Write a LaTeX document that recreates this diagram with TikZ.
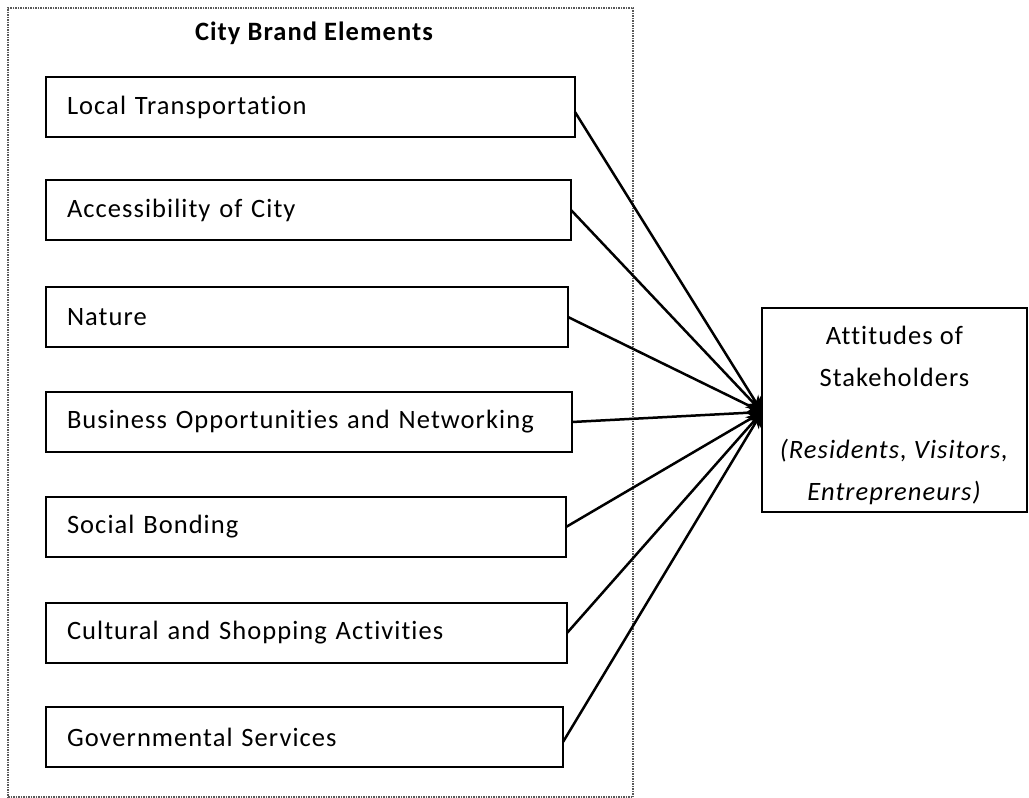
\documentclass[tikz,border=0pt]{standalone}
\usepackage{fontspec}
\setmainfont{Carlito}[Ligatures=NoCommon, LetterSpace=4]
\usetikzlibrary{arrows.meta}
\begin{document}
\begin{tikzpicture}[x=1pt,y=-1pt,
  txt/.style={font=\fontsize{26.5}{30}\selectfont},
  elem/.style={draw, line width=1.8pt, rectangle, anchor=north west, minimum height=60pt,
    inner xsep=21pt, inner ysep=0pt, outer sep=0pt, align=left, txt},
  frame/.style={draw=black!65, line width=1.2pt, dash pattern=on 1.5pt off 1pt, anchor=north west, outer sep=0pt, inner sep=0pt},
  link/.style={line width=2.5pt, -{Stealth[length=15pt,width=18pt]}},
  target/.style={draw, line width=1.8pt, anchor=north west, minimum width=265pt, minimum height=204pt, outer sep=0pt},
]
\useasboundingbox (0,0) rectangle (1029,798);
\node[frame, minimum width=625pt, minimum height=789pt] (frm) at (8,8) {};
\node[txt, font=\bfseries\fontsize{26.5}{30}\selectfont] (title) at (314,33) {City Brand Elements};
\node[elem, text width=487pt] (b1) at (46,77)  {Local Transportation};
\node[elem, text width=483pt] (b2) at (46,180) {Accessibility of City};
\node[elem, text width=480pt] (b3) at (46,287) {Nature};
\node[elem, text width=484pt] (b4) at (46,392) {Business Opportunities and Networking};
\node[elem, text width=478pt] (b5) at (46,497) {Social Bonding};
\node[elem, text width=479pt] (b6) at (46,603) {Cultural and Shopping Activities};
\node[elem, text width=475pt] (b7) at (46,707) {Governmental Services};
\node[target] (att) at (762,308) {};
\node[align=center, font=\fontsize{26.5}{42}\selectfont, yshift=-5pt] (attxt) at (att.center)
  {Attitudes of\\Stakeholders\\[30pt]\textit{(Residents, Visitors,}\\\textit{Entrepreneurs)}};
\foreach \b/\s in {b1/-5,b2/0,b3/0,b4/0,b5/0,b6/0,b7/-5}
  \draw[link] ([yshift=\s pt]\b.east) -- ([yshift=-2pt]att.west);
\end{tikzpicture}
\end{document}
